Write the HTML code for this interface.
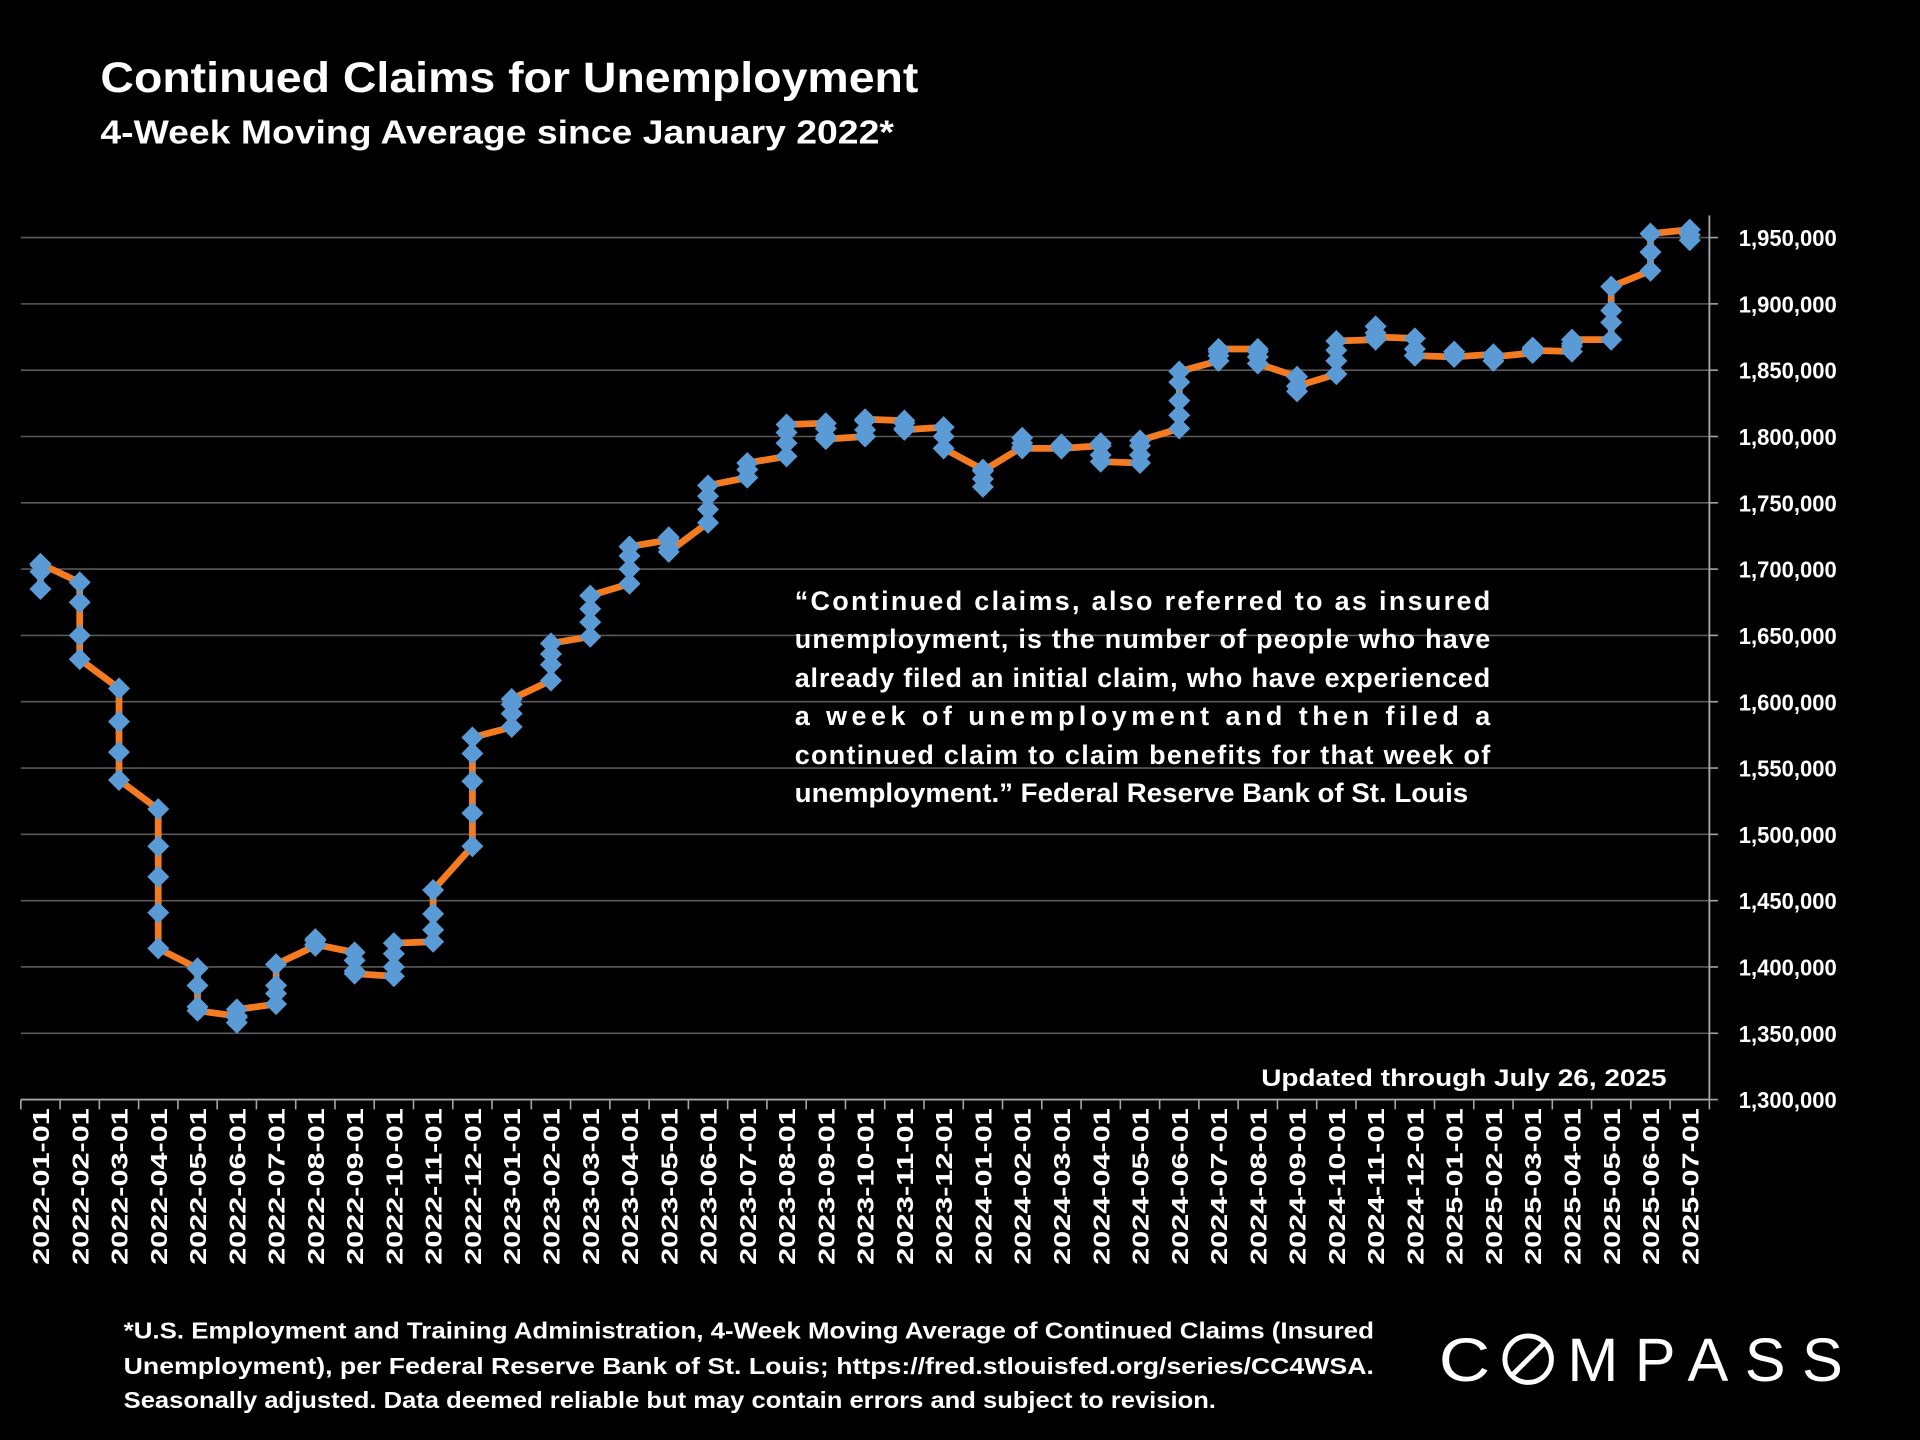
<!DOCTYPE html>
<html><head><meta charset="utf-8"><title>Continued Claims for Unemployment</title>
<style>
html,body{margin:0;padding:0;background:#000;}
svg{display:block;}
text{font-family:"Liberation Sans",sans-serif;fill:#fff;}
</style></head>
<body>
<svg id="chart" xmlns="http://www.w3.org/2000/svg" width="1920" height="1440" viewBox="0 0 1568 1176">
<rect x="0" y="0" width="1568" height="1176" fill="#000"/>
<text x="82" y="75" font-size="35" font-weight="bold" textLength="668" lengthAdjust="spacingAndGlyphs">Continued Claims for Unemployment</text>
<text x="82" y="117" font-size="27" font-weight="bold" textLength="648" lengthAdjust="spacingAndGlyphs">4-Week Moving Average since January 2022*</text>
<g id="grid"></g>
<g id="yaxis"></g>
<g id="xaxis"></g>
<g id="series"></g>
<g font-size="22" font-weight="bold">
<text x="649" y="498" textLength="568" lengthAdjust="spacing">“Continued claims, also referred to as insured</text>
<text x="649" y="529" textLength="568" lengthAdjust="spacing">unemployment, is the number of people who have</text>
<text x="649" y="561" textLength="568" lengthAdjust="spacing">already filed an initial claim, who have experienced</text>
<text x="649" y="592" textLength="568" lengthAdjust="spacing">a week of unemployment and then filed a</text>
<text x="649" y="624" textLength="568" lengthAdjust="spacing">continued claim to claim benefits for that week of</text>
<text x="649" y="655" textLength="550" lengthAdjust="spacingAndGlyphs">unemployment.”  Federal Reserve Bank of St. Louis</text>
</g>
<text x="1030" y="887" font-size="20" font-weight="bold" textLength="331" lengthAdjust="spacingAndGlyphs">Updated through July 26, 2025</text>
<g font-size="19" font-weight="bold">
<text x="101" y="1093" textLength="1021" lengthAdjust="spacingAndGlyphs">*U.S. Employment and Training Administration, 4-Week Moving Average of Continued Claims (Insured</text>
<text x="101" y="1122" textLength="1021" lengthAdjust="spacingAndGlyphs">Unemployment), per Federal Reserve Bank of St. Louis; https://fred.stlouisfed.org/series/CC4WSA.</text>
<text x="101" y="1150" textLength="892" lengthAdjust="spacingAndGlyphs">Seasonally adjusted. Data deemed reliable but may contain errors and subject to revision.</text>
</g>
<g>
<text x="1175" y="1128" font-size="50" textLength="42" lengthAdjust="spacingAndGlyphs">C</text>
<circle cx="1248" cy="1110" r="19" fill="none" stroke="#fff" stroke-width="4"/>
<line x1="1236" y1="1122" x2="1260" y2="1098" stroke="#fff" stroke-width="4"/>
<text x="1280" y="1128" font-size="50" textLength="225" lengthAdjust="spacing">MPASS</text>
</g>
</svg>
<script>
const monthLabels = ["2022-01-01","2022-02-01","2022-03-01","2022-04-01","2022-05-01","2022-06-01","2022-07-01","2022-08-01","2022-09-01","2022-10-01","2022-11-01","2022-12-01","2023-01-01","2023-02-01","2023-03-01","2023-04-01","2023-05-01","2023-06-01","2023-07-01","2023-08-01","2023-09-01","2023-10-01","2023-11-01","2023-12-01","2024-01-01","2024-02-01","2024-03-01","2024-04-01","2024-05-01","2024-06-01","2024-07-01","2024-08-01","2024-09-01","2024-10-01","2024-11-01","2024-12-01","2025-01-01","2025-02-01","2025-03-01","2025-04-01","2025-05-01","2025-06-01","2025-07-01"];
const weeklyValues = [
[1685,1698,1703,1704],[1690,1675,1650,1632],[1610,1585,1562,1541],[1519,1491,1468,1441,1414],
[1399,1386,1370,1367],[1363,1358,1362,1368],[1372,1380,1386,1402],[1416,1421,1420,1417],
[1411,1405,1397,1395],[1393,1400,1410,1418],[1419,1428,1440,1458],[1491,1516,1540,1561,1573],
[1581,1591,1598,1602],[1616,1628,1636,1644],[1649,1660,1670,1680],[1689,1700,1710,1717],
[1722,1724,1716,1713],[1735,1745,1755,1763],[1769,1775,1780],[1785,1795,1803,1809],
[1810,1806,1800,1798],[1800,1805,1812,1813],[1812,1810,1806,1805],[1807,1800,1791],
[1775,1762,1768,1774],[1792,1799,1795,1791],[1791,1794,1793,1791],[1793,1795,1786,1781],
[1780,1786,1793,1797],[1806,1816,1827,1841,1849],[1857,1861,1864,1866],[1866,1864,1860,1855],
[1845,1838,1834,1838],[1847,1857,1865,1872],[1873,1883,1878,1875],[1874,1866,1861,1861],
[1860,1864,1862,1860],[1862,1857,1861,1860],[1863,1867,1866,1865],[1864,1868,1870,1873],
[1873,1886,1895,1913],[1925,1939,1953],[1956,1952,1948]
];
const yTicks = [1300000,1350000,1400000,1450000,1500000,1550000,1600000,1650000,1700000,1750000,1800000,1850000,1900000,1950000];

const NS = "http://www.w3.org/2000/svg";
const plotLeft = 17, plotRight = 1396, plotTop = 194, plotBottom = 898;
const yMin = 1300000, yMax = 1950000;
const bandW = (plotRight - plotLeft) / monthLabels.length;
function xScale(i){ return plotLeft + bandW * (i + 0.5); }
function yScale(v){ return plotBottom - (v - yMin) / (yMax - yMin) * (plotBottom - plotTop); }
function mk(tag, attrs, parent){ const e = document.createElementNS(NS, tag); for (const k in attrs) e.setAttribute(k, attrs[k]); parent.appendChild(e); return e; }

const grid = document.getElementById('grid');
const yaxis = document.getElementById('yaxis');
const xaxis = document.getElementById('xaxis');
const series = document.getElementById('series');

yTicks.forEach(function(t){
  const y = yScale(t);
  if (t !== yMin) {
    const g = mk('line', {x1: plotLeft, x2: plotRight, y1: y, y2: y, stroke: '#595959', 'stroke-width': 1.3}, grid);
    
    
  }
  const tk = mk('line', {x1: plotRight, x2: plotRight + 7, y1: y, y2: y, stroke: '#a6a6a6', 'stroke-width': 1.3}, yaxis);
  
  
  const lb = mk('text', {x: 1420, y: y + 7, 'font-size': 19, 'font-weight': 'bold', textLength: 80, lengthAdjust: 'spacingAndGlyphs'}, yaxis);
  lb.textContent = t.toLocaleString('en-US');
  
  
});
const yl = mk('line', {x1: plotRight, x2: plotRight, y1: 176, y2: plotBottom, stroke: '#a6a6a6', 'stroke-width': 1.5}, yaxis);



const xl = mk('line', {x1: plotLeft, x2: plotRight, y1: plotBottom, y2: plotBottom, stroke: '#a6a6a6', 'stroke-width': 1.5}, xaxis);


for (let i = 0; i <= monthLabels.length; i++) {
  const x = plotLeft + bandW * i;
  const tk = mk('line', {x1: x, x2: x, y1: plotBottom, y2: plotBottom + 8, stroke: '#a6a6a6', 'stroke-width': 1.3}, xaxis);
  
  
}
monthLabels.forEach(function(m, i){
  const x = xScale(i) + 7;
  const lb = mk('text', {x: x, y: 905, 'font-size': 19, 'font-weight': 'bold', 'text-anchor': 'end', transform: 'rotate(-90 ' + x + ' 905)', textLength: 128, lengthAdjust: 'spacingAndGlyphs'}, xaxis);
  lb.textContent = m;
  
  
});

const pts = [];
weeklyValues.forEach(function(arr, i){
  arr.forEach(function(v){ pts.push([xScale(i), yScale(v * 1000)]); });
});
const line = mk('polyline', {points: pts.map(function(p){ return p[0].toFixed(1) + ',' + p[1].toFixed(1); }).join(' '), fill: 'none', stroke: '#F47B20', 'stroke-width': 5.5, 'stroke-linejoin': 'round'}, series);


pts.forEach(function(p){
  const r = 9;
  const d = mk('polygon', {points: (p[0]) + ',' + (p[1] - r) + ' ' + (p[0] + r) + ',' + p[1] + ' ' + p[0] + ',' + (p[1] + r) + ' ' + (p[0] - r) + ',' + p[1], fill: '#5B9BD5'}, series);
  
  
});
</script>
</body></html>
